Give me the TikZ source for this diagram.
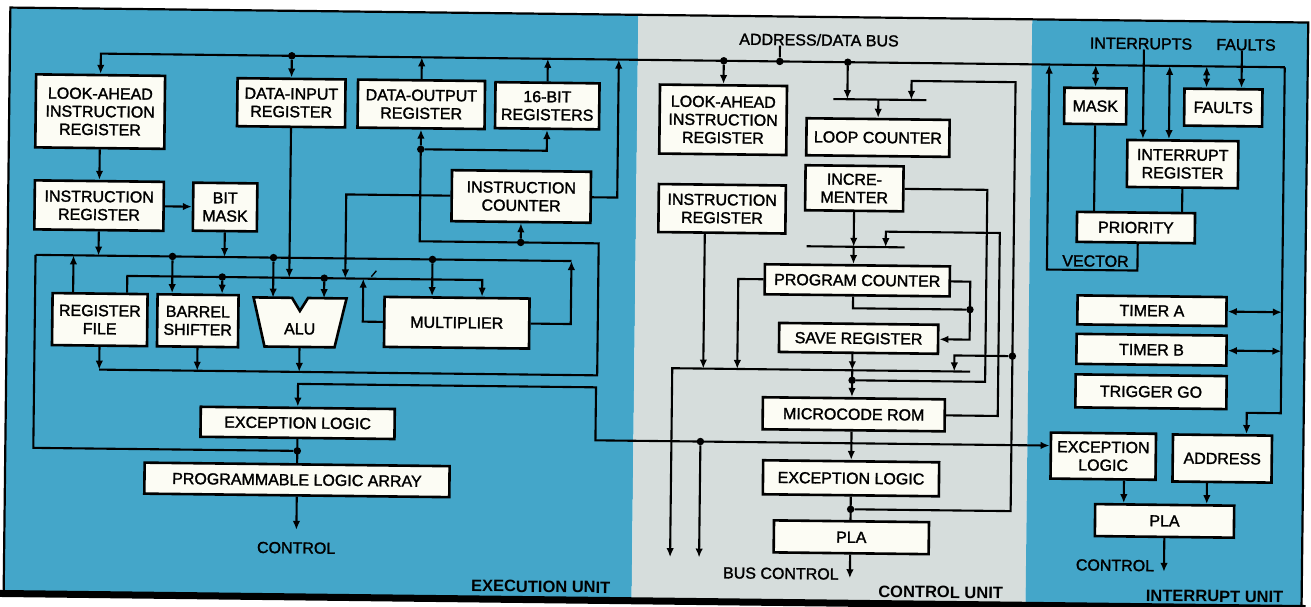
\documentclass[tikz,border=0pt]{standalone}
\usepackage{fontspec}
\setmainfont{Liberation Sans}
\newfontfamily\boxfont{Liberation Sans}[FakeBold=1.6]
\usetikzlibrary{arrows.meta}
\definecolor{eublue}{RGB}{68,166,201}
\definecolor{cugrey}{RGB}{214,221,220}
\definecolor{boxfill}{RGB}{252,252,244}
\begin{document}
\begin{tikzpicture}[x=1pt,y=-1pt,
  blk/.style={draw=black, line width=2.6pt, fill=boxfill, inner sep=0pt, align=center, font=\fontsize{16}{18}\boxfont},
  wire/.style={line width=2.1pt},
  arr/.style={wire,-{Latex[length=9pt,width=7.5pt]}},
  darr/.style={wire,{Latex[length=9pt,width=7.5pt]}-{Latex[length=9pt,width=7.5pt]}},
  jdot/.style={circle,fill=black,inner sep=0pt,minimum size=7.5pt},
  lbl/.style={font=\fontsize{16}{18}\boxfont, inner sep=0pt},
  unitlbl/.style={font=\fontsize{16.5}{18}\selectfont\bfseries, inner sep=0pt},
]
\useasboundingbox (0,0) rectangle (1311,606);
\fill[white] (0,0) rectangle (1311,606);
\begin{scope}[transform canvas={rotate around={-0.66:(655,303)}}]
% backgrounds and frame
\fill[eublue] (7,15) rectangle (635,600);
\fill[cugrey] (635,15) rectangle (1029,600);
\fill[eublue] (1029,15) rectangle (1305,600);
\draw[line width=2.2pt] (7,600) -- (7,15) -- (1305,15) -- (1305,600);
\draw[line width=7pt] (3,601) -- (1309,601);

% ---------------- execution unit boxes
\node[blk, minimum width=129pt, minimum height=73pt] (LA1) at (98,118) {LOOK-AHEAD\\INSTRUCTION\\REGISTER};
\node[blk, minimum width=129pt, minimum height=49pt] (IR1) at (98,212) {INSTRUCTION\\REGISTER};
\node[blk, minimum width=64pt, minimum height=48pt] (BM) at (224,212) {BIT\\MASK};
\node[blk, minimum width=108pt, minimum height=48pt] (DIN) at (289,107) {DATA-INPUT\\REGISTER};
\node[blk, minimum width=127pt, minimum height=48pt] (DOUT) at (419,107) {DATA-OUTPUT\\REGISTER};
\node[blk, minimum width=104pt, minimum height=46pt] (R16) at (545,107) {16-BIT\\REGISTERS};
\node[blk, minimum width=139pt, minimum height=51pt] (IC) at (520,198) {INSTRUCTION\\COUNTER};
\node[blk, minimum width=95pt, minimum height=52pt] (RF) at (100,326) {REGISTER\\FILE};
\node[blk, minimum width=81pt, minimum height=52pt] (BS) at (198,326) {BARREL\\SHIFTER};
\filldraw[fill=boxfill, line width=2.6pt, line join=miter] (253.5,302) -- (292,302) -- (300,315) -- (308,302) -- (346.5,302) -- (335,351) -- (265,351) -- cycle;
\node[lbl] (ALU) at (300,333) {ALU};
\coordinate (ALUn) at (300,302);
\coordinate (ALUs) at (300,351);
\node[blk, minimum width=145pt, minimum height=50pt] (MULT) at (457,325) {MULTIPLIER};
\node[blk, minimum width=194pt, minimum height=30pt] (EXC1) at (299,427) {EXCEPTION LOGIC};
\node[blk, minimum width=305pt, minimum height=31pt] (PLA1) at (299,484) {PROGRAMMABLE LOGIC ARRAY};
\node[lbl] (CTL1) at (299,552) {CONTROL};
\node[unitlbl] (EXU) at (544,588) {EXECUTION UNIT};

% ---------------- control unit boxes
\node[blk, minimum width=127pt, minimum height=69pt] (LA2) at (721,119) {LOOK-AHEAD\\INSTRUCTION\\REGISTER};
\node[blk, minimum width=127pt, minimum height=48pt] (IR2) at (721,208) {INSTRUCTION\\REGISTER};
\node[blk, minimum width=143pt, minimum height=37pt] (LOOP) at (876,135) {LOOP COUNTER};
\node[blk, minimum width=98pt, minimum height=45pt] (INC) at (853,186) {INCRE-\\MENTER};
\node[blk, minimum width=185pt, minimum height=30pt] (PC) at (857,278) {PROGRAM COUNTER};
\node[blk, minimum width=159pt, minimum height=29pt] (SAVE) at (859,336) {SAVE REGISTER};
\node[blk, minimum width=182pt, minimum height=32pt] (UROM) at (855,412) {MICROCODE ROM};
\node[blk, minimum width=176pt, minimum height=34pt] (EXC2) at (853,476) {EXCEPTION LOGIC};
\node[blk, minimum width=155pt, minimum height=32pt] (PLA2) at (854,535) {PLA};
\node[lbl] (BUSCTL) at (784,572) {BUS CONTROL};
\node[lbl] (ADBUS) at (816,38) {ADDRESS/DATA BUS};
\node[unitlbl] (CU) at (944,589) {CONTROL UNIT};

% ---------------- interrupt unit boxes
\node[blk, minimum width=62pt, minimum height=36pt] (MASK) at (1093,101) {MASK};
\node[blk, minimum width=78pt, minimum height=37pt] (FLT) at (1221,101) {FAULTS};
\node[blk, minimum width=111pt, minimum height=47pt] (IREG) at (1181,158) {INTERRUPT\\REGISTER};
\node[blk, minimum width=118pt, minimum height=30pt] (PRI) at (1135,222) {PRIORITY};
\node[lbl] (VEC) at (1095,256) {VECTOR};
\node[lbl] (INTS) at (1138,38) {INTERRUPTS};
\node[lbl] (FLTL) at (1243,38) {FAULTS};
\node[blk, minimum width=149pt, minimum height=29pt] (TA) at (1152,305) {TIMER A};
\node[blk, minimum width=150pt, minimum height=30pt] (TB) at (1152,344) {TIMER B};
\node[blk, minimum width=151pt, minimum height=33pt] (TG) at (1152,386) {TRIGGER GO};
\node[blk, minimum width=105pt, minimum height=46pt] (EXC3) at (1105,451) {EXCEPTION\\LOGIC};
\node[blk, minimum width=99pt, minimum height=47pt] (ADDR) at (1224,452) {ADDRESS};
\node[blk, minimum width=139pt, minimum height=32pt] (PLA3) at (1167,515) {PLA};
\node[lbl] (CTL3) at (1118,560) {CONTROL};
\node[unitlbl] (IU) at (1218,590) {INTERRUPT UNIT};

% ---------------- coordinates
\coordinate (busL) at (98,60);
\coordinate (busR) at (1282,60);
\coordinate (Aleft) at (35,262);
\coordinate (Aright) at (571,262);
\coordinate (Bleft) at (127,282);
\coordinate (Bright) at (482,282);
\coordinate (spine) at (853,0);

% ---------------- top bus
\draw[arr] (busR) -- (busL) -- (LA1.north);
\node[jdot] (d1) at (DIN.north |- busL) {};
\draw[arr] (d1) -- (DIN.north);
\draw[arr] (DOUT.north) -- (DOUT.north |- busL);
\draw[arr] (R16.north) -- (R16.north |- busL);
\draw[arr] (IC.east) -| (616,60);

% ---------------- execution unit wiring
\draw[arr] (LA1.south) -- (IR1.north);
\draw[arr] (IR1.east) -- (BM.west);
\draw[wire] (Aleft) -- (Aright);
\draw[arr] (IR1.south) -- (IR1.south |- Aleft);
\draw[arr] (BM.south) -- (BM.south |- Aleft);
\draw[arr] (RF.north -| 73,0) -- (73,262);
\node[jdot] (a1) at (172,262) {};
\draw[arr] (a1) -- (BS.north -| a1);
\node[jdot] (a2) at (273,262) {};
\draw[arr] (a2) -- (ALUn -| a2);
\node[jdot] (a3) at (432,262) {};
\draw[arr] (a3) -- (MULT.north -| a3);
\draw[arr] (MULT.east) -| (Aright);

\draw[arr] (RF.north -| Bleft) |- (Bright) -- (MULT.north -| Bright);
\node[jdot] (b1) at (222,282) {};
\draw[arr] (b1) -- (BS.north -| b1);
\node[jdot] (b2) at (324,282) {};
\draw[arr] (b2) -- (ALUn -| b2);
\draw[arr] (DIN.south) -- (DIN.south |- Bleft);
\draw[arr] (IC.west) -| (345,282);
\draw[arr] (MULT.west) -| (363,282);
\draw[line width=1.4pt] (371,280) -- (376,274);

\draw[arr] (RF.south) -- (RF.south |- 0,376);
\draw[arr] (BS.south) -- (BS.south |- 0,376);
\draw[arr] (ALUs) -- (300,376);
\draw[wire] (100,376) -- (598,376) -- (598,244) -- (419,244) -- (419,152);
\node[jdot] (o1) at (419,152) {};
\draw[arr] (o1) -- (DOUT.south);
\draw[arr] (o1) -| (R16.south);
\node[jdot] (o2) at (520,244) {};
\draw[arr] (o2) -- (IC.south);

\draw[darr] (EXC1.north) |- (597,388) -- (597,441) -- (EXC3.west |- 0,441);
\draw[wire] (EXC1.south) -- (PLA1.north);
\node[jdot] (x1) at (299,455) {};
\draw[wire] (x1) -| (Aleft);
\coordinate (ctl1end) at (299,534);
\draw[arr] (PLA1.south) -- (ctl1end);

% ---------------- control unit wiring
\node[jdot] (c1) at (LA2.north |- busL) {};
\draw[arr] (c1) -- (LA2.north);
\node[jdot] (c2) at (777,60) {};
\draw[wire] (ADBUS.south -| c2) -- (c2);
\node[jdot] (c3) at (845,60) {};
\draw[wire] (831,97) -- (924,97);
\draw[arr] (c3) -- (845,97);
\draw[arr] (876,97) -- (LOOP.north);

\node[jdot] (c4) at (853,507) {};
\draw[wire] (EXC2.south -| spine) -- (PLA2.north -| spine);
\draw[arr] (c4) -| (1013,78) -| (909,97);
\node[jdot] (c5) at (1013,352) {};
\draw[arr] (c5) -| (955,368);

\coordinate (bc1) at (673,557);
\coordinate (bc2) at (702,557);
\draw[arr] (971,368) -- (673,368) -- (bc1);
\node[jdot] (e1) at (702,441) {};
\draw[arr] (e1) -- (bc2);
\draw[arr] (IR2.south -| 704,0) -- (704,368);
\draw[arr] (PC.west) -| (738,368);

\draw[wire] (806,244.5) -- (904,244.5);
\draw[arr] (INC.south) -- (853,244.5);
\draw[arr] (853,244.5) -- (PC.north -| spine);
\draw[arr] (UROM.east) -| (999,229) -| (885,244.5);
\node[jdot] (c6) at (853,378) {};
\draw[wire] (INC.east) -| (986,378) -- (c6);
\draw[arr] (SAVE.south -| spine) -- (853,368);
\draw[arr] (853,368) -- (UROM.north -| spine);
\draw[arr] (PC.east) -| (970,336) -- (SAVE.east);
\node[jdot] (c7) at (970,306) {};
\draw[wire] (PC.south -| spine) |- (c7);
\draw[arr] (UROM.south -| spine) -- (EXC2.north -| spine);
\coordinate (bc3) at (853,576);
\draw[arr] (PLA2.south -| spine) -- (bc3);

% ---------------- interrupt unit wiring
\draw[darr] (MASK.north) -- (MASK.north |- busL);
\draw[darr] (FLT.north -| 1204,0) -- (1204,60);
\draw[arr] (FLTL.south -| 1239,0) -- (FLT.north -| 1239,0);
\draw[arr] (INTS.south -| 1141,0) -- (IREG.north -| 1141,0);
\draw[darr] (IREG.north -| 1167,0) -- (1167,60);
\draw[wire] (MASK.south) -- (PRI.north -| MASK.south);
\draw[wire] (IREG.south) -- (PRI.north -| IREG.south);
\draw[arr] (PRI.south -| 1137,0) |- (1046.5,265) -- (1046.5,60);
\draw[arr] (busR) -- (1282,406) -| (ADDR.north -| 1248,0);
\draw[darr] (TA.east) -- (TA.east -| busR);
\draw[darr] (TB.east) -- (TB.east -| busR);
\draw[arr] (EXC3.south -| 1126,0) -- (PLA3.north -| 1126,0);
\draw[arr] (ADDR.south -| 1209,0) -- (PLA3.north -| 1209,0);
\coordinate (ctl3end) at (1167,566);
\draw[arr] (PLA3.south) -- (ctl3end);
\end{scope}
\end{tikzpicture}
\end{document}
